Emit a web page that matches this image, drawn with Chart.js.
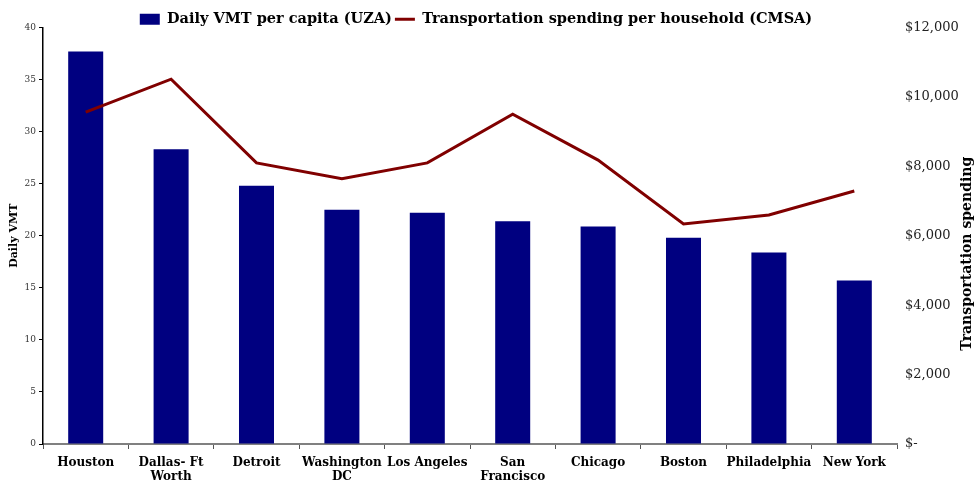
<!DOCTYPE html>
<html>
<head>
<meta charset="utf-8">
<script src="https://cdn.jsdelivr.net/npm/chart.js@4.4.1/dist/chart.umd.min.js"></script>
<style>
  html, body { margin: 0; padding: 0; background: #fff; }
  #wrap { width: 974px; height: 482px; }
</style>
</head>
<body>
<div id="wrap"><canvas id="myChart"></canvas></div>
<script>
// data
const cities = [
  'Houston', ['Dallas- Ft', 'Worth'], 'Detroit', ['Washington', 'DC'], 'Los Angeles',
  ['San', 'Francisco'], 'Chicago', 'Boston', 'Philadelphia', 'New York'
]
const vmtPerCapita = [37.7, 28.3, 24.8, 22.5, 22.2, 21.4, 20.9, 19.8, 18.4, 15.7]
const spendingPerHousehold = [9560, 10510, 8100, 7640, 8100, 9500, 8180, 6340, 6600, 7290]

const vmtTicks = [0, 5, 10, 15, 20, 25, 30, 35, 40]
const spendTicks = [0, 2000, 4000, 6000, 8000, 10000, 12000]

const serif = "'DejaVu Serif', 'Liberation Serif', serif"
const ctx = document.getElementById('myChart')

// right axis title reads bottom-to-top in the original
const rightTitle = {
  id: 'rightTitle',
  afterLayout(chart) {
    // nudge the legend down/left a bit without moving the plot
    chart.legend.top += 9
    chart.legend.bottom += 9
    chart.legend.left -= 11
    chart.legend.right -= 11
  },
  afterDraw(chart) {
    const c = chart.ctx
    const area = chart.chartArea
    c.save()
    c.font = 'bold 14px ' + serif
    c.fillStyle = '#000'
    c.textAlign = 'center'
    c.textBaseline = 'middle'
    c.translate(967, (area.top + area.bottom) / 2 + 18)
    c.rotate(-Math.PI / 2)
    c.fillText('Transportation spending', 0, 0)
    c.restore()
  }
}

new Chart(ctx, {
  type: 'bar',
  data: {
    labels: cities,
    datasets: [
      {
        type: 'line',
        label: 'Transportation spending per household (CMSA)',
        data: spendingPerHousehold,
        yAxisID: 'y2',
        borderColor: '#800000',
        backgroundColor: '#800000',
        borderWidth: 3,
        pointRadius: 0,
        tension: 0,
        pointStyle: 'line',
        order: 0
      },
      {
        label: 'Daily VMT per capita (UZA)',
        data: vmtPerCapita,
        yAxisID: 'y',
        backgroundColor: '#000080',
        borderWidth: 0,
        barPercentage: 0.41,
        categoryPercentage: 1,
        pointStyle: 'rect',
        order: 1
      }
    ]
  },
  options: {
    responsive: true,
    maintainAspectRatio: false,
    animation: false,
    layout: { padding: { top: 0, left: 0, right: 0, bottom: 0 } },
    plugins: {
      tooltip: { enabled: false },
      legend: {
        position: 'top',
        reverse: true,
        labels: {
          usePointStyle: true,
          pointStyleWidth: 20,
          boxHeight: 11,
          padding: 3,
          color: '#000',
          font: { family: serif, size: 14.5, weight: 'bold' }
        }
      }
    },
    scales: {
      x: {
        grid: { drawOnChartArea: false, drawTicks: true, tickLength: 5, color: '#555', offset: true },
        border: { color: '#808080', width: 2 },
        ticks: {
          color: '#000',
          padding: 7,
          maxRotation: 0,
          autoSkip: false,
          font: { family: serif, size: 12, weight: 'bold', lineHeight: 1.15 }
        },
        afterFit(scale) { scale.height = 38 }
      },
      y: {
        position: 'left',
        min: 0,
        max: 40,
        afterBuildTicks(scale) { scale.ticks = vmtTicks.map(v => ({ value: v })) },
        grid: { drawOnChartArea: false, drawTicks: true, tickLength: 4, color: '#000' },
        border: { color: '#000', width: 1.5 },
        ticks: {
          color: '#333',
          padding: 3,
          font: { family: serif, size: 9 }
        },
        title: {
          display: true,
          text: 'Daily VMT',
          color: '#000',
          padding: { top: 8, bottom: 0 },
          font: { family: serif, size: 11, weight: 'bold' }
        },
        afterFit(scale) { scale.width = 43 }
      },
      y2: {
        position: 'right',
        min: 0,
        max: 12000,
        afterBuildTicks(scale) { scale.ticks = spendTicks.map(v => ({ value: v })) },
        grid: { display: false, drawTicks: false },
        border: { display: false },
        ticks: {
          color: '#222',
          padding: 8,
          font: { family: serif, size: 13 },
          callback: v => v === 0 ? '$-' : '$' + v.toLocaleString('en-US')
        },
        afterFit(scale) { scale.width = 77 }
      }
    }
  },
  plugins: [rightTitle]
})
</script>
</body>
</html>
